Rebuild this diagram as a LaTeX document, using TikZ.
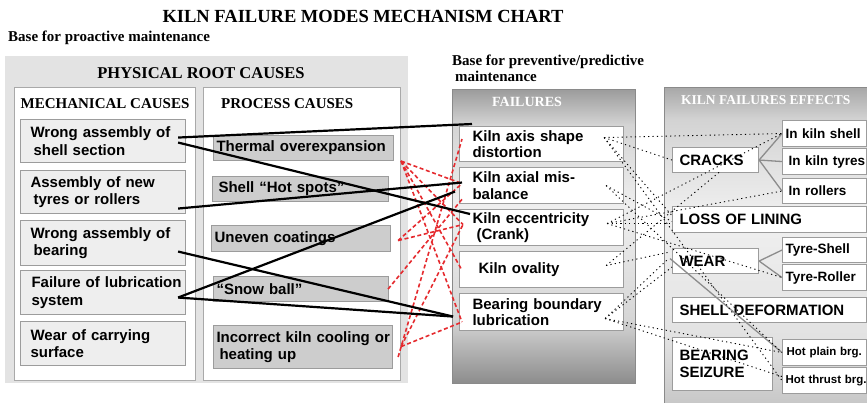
\documentclass[tikz,border=0pt]{standalone}
\usepackage{fontspec}
\setmainfont{Liberation Serif}
\setsansfont{Liberation Sans}
\usetikzlibrary{calc}

\definecolor{rootfill}{HTML}{E3E3E3}
\definecolor{mechfill}{HTML}{EEEEEE}
\definecolor{procfill}{HTML}{CDCDCD}
\definecolor{boxline}{HTML}{9C9C9C}
\definecolor{colline}{HTML}{A9A9A9}
\definecolor{panelline}{HTML}{8A8A8A}
\definecolor{causered}{HTML}{E52A2E}
\definecolor{treegray}{HTML}{8C8C8C}
% failures panel shading
\definecolor{ftop}{HTML}{9C9C9C}
\definecolor{fhigh}{HTML}{D4D4D4}
\definecolor{fmid}{HTML}{EFEFEF}
\definecolor{flow}{HTML}{D6D6D6}
\definecolor{fbot}{HTML}{8C8C8C}
% effects panel shading
\definecolor{etop}{HTML}{A8A8A8}
\definecolor{ehigh}{HTML}{D3D3D3}
\definecolor{emid}{HTML}{F0F0F0}
\definecolor{elow}{HTML}{E2E2E2}
\definecolor{ebot}{HTML}{C6C6C6}

\pgfdeclareverticalshading{failshade}{100bp}{color(0bp)=(fbot); color(25bp)=(fbot);
  color(36bp)=(flow); color(55bp)=(fmid); color(69bp)=(fhigh); color(75bp)=(ftop); color(100bp)=(ftop)}
\pgfdeclareverticalshading{effshade}{100bp}{color(0bp)=(ebot); color(25bp)=(ebot);
  color(36bp)=(elow); color(55bp)=(emid); color(70bp)=(ehigh); color(75bp)=(etop); color(100bp)=(etop)}

\begin{document}
\begin{tikzpicture}[x=1pt,y=-1pt,
  every node/.style={inner sep=0pt},
  hd/.style={font=\bfseries\fontsize{15}{16.5}\selectfont},
  col/.style={draw=colline, fill=white, line width=1pt, anchor=north west},
  box/.style={draw=boxline, line width=1.1pt, anchor=north west, align=left,
    font=\sffamily\bfseries\fontsize{15}{17.5}\selectfont},
  mech/.style={box, fill=mechfill, text width=149pt, inner xsep=8pt, minimum height=#1},
  proc/.style={box, fill=procfill, inner xsep=3pt, minimum height=#1},
  fail/.style={box, fill=white, text width=138pt, inner xsep=13pt, minimum height=#1,
    font=\sffamily\bfseries\fontsize{15}{16.5}\selectfont},
  eff/.style={box, fill=white, inner xsep=7pt, minimum height=#1},
  sub/.style={box, fill=white, text width=80pt, inner xsep=2pt, minimum height=#1,
    font=\sffamily\bfseries\fontsize{13.5}{15}\selectfont},
  hot/.style={sub=#1, font=\sffamily\bfseries\fontsize{11.5}{13}\selectfont},
  causeline/.style={line width=2.2pt, black},
  redlink/.style={line width=1.6pt, causered, dash pattern=on 4pt off 2.6pt},
  dotlink/.style={line width=0.9pt, black, dash pattern=on 1.2pt off 3.2pt},
  tree/.style={line width=1.3pt, treegray},
]
\useasboundingbox (0,0) rectangle (867,403);
\clip (0,0) rectangle (867,403);

% headings
\node[font=\bfseries\fontsize{18.5}{20}\selectfont] (title) at (363,16) {KILN FAILURE MODES MECHANISM CHART};
\node[hd, anchor=west] (proact) at (8,38) {Base for proactive maintenance};
\node[hd, anchor=west, align=left] (predict) at (452,68.5) {Base for preventive/predictive\\\hspace*{3pt}maintenance};

% root causes panel
\node[fill=rootfill, minimum width=403pt, minimum height=327pt, anchor=north west] (rootpanel) at (5,56) {};
\node[hd, font=\bfseries\fontsize{16.5}{18}\selectfont] (physhd) at (201,73) {PHYSICAL ROOT CAUSES};
\node[col, minimum width=181pt, minimum height=293pt] (mechcol) at (14,87) {};
\node[col, minimum width=197pt, minimum height=293pt] (proccol) at (203,87) {};
\node[hd] (mechhd) at (105,104) {MECHANICAL CAUSES};
\node[hd, anchor=west] (prochd) at (221,104) {PROCESS CAUSES};

\node[mech=43pt] (m1) at (20,119) {\hspace*{2pt}Wrong assembly of\\\hspace*{5pt}shell section};
\node[mech=43pt] (m2) at (20,170) {\hspace*{2pt}Assembly of new\\\hspace*{5pt}tyres or rollers};
\node[mech=45pt] (m3) at (20,220) {\hspace*{2pt}Wrong assembly of\\\hspace*{5pt}bearing};
\node[mech=44pt] (m4) at (20,270) {\mbox{\hspace*{3pt}Failure of lubrication}\\\hspace*{3pt}system};
\node[mech=44pt] (m5) at (20,321) {\hspace*{2pt}Wear of carrying\\\hspace*{2pt}surface};

\node[proc=25pt, text width=174pt] (p1) at (213,135) {Thermal overexpansion};
\node[proc=25pt, text width=170pt] (p2) at (212,176) {\hspace*{3pt}Shell “Hot spots”};
\node[proc=26pt, text width=173pt] (p3) at (211,225) {Uneven coatings};
\node[proc=25pt, text width=169pt] (p4) at (213,276) {“Snow ball”};
\node[proc=43pt, text width=173pt] (p5) at (213,325) {\mbox{Incorrect kiln cooling or}\\\hspace*{3pt}heating up};

% failures panel
\node[draw=panelline, line width=1.2pt, shade, shading=failshade, minimum width=183pt,
  minimum height=294pt, anchor=north west] (failpanel) at (452,89) {};
\node[hd, text=white, font=\bfseries\fontsize{14}{16}\selectfont] (failhd) at (527,102) {FAILURES};
\node[fail=35pt] (f1) at (459,126) {Kiln axis shape\\distortion};
\node[fail=36pt] (f2) at (459,167) {Kiln axial mis-\\balance};
\node[fail=36pt] (f3) at (459,209) {Kiln eccentricity\\\hspace*{4pt}(Crank)};
\node[fail=36pt] (f4) at (459,251) {\hspace*{6pt}Kiln ovality};
\node[fail=37pt] (f5) at (459,293) {Bearing boundary\\lubrication};

% effects panel
\node[draw=panelline, line width=1.2pt, shade, shading=effshade, minimum width=230pt,
  minimum height=320pt, anchor=north west] (effpanel) at (664,87) {};
\node[hd, text=white, anchor=west, font=\bfseries\fontsize{13.5}{15}\selectfont] (effhd) at (681,100) {KILN FAILURES EFFECTS};
\node[eff=25pt, text width=72pt] (cracks) at (672,147) {CRACKS};
\node[eff=26pt, text width=180pt] (lining) at (672,206) {LOSS OF LINING};
\node[eff=25pt, text width=72pt] (wear) at (672,248) {WEAR};
\node[eff=25pt, text width=180pt] (deform) at (672,297) {SHELL DEFORMATION};
\node[eff=53pt, text width=86pt] (seizure) at (672,337) {BEARING\\SEIZURE};
\node[sub=26pt] (shell) at (782,120) {\mbox{\hspace*{1pt}In kiln shell}};
\node[sub=26pt] (tyres) at (782,148) {\mbox{\hspace*{4pt}In kiln tyres}};
\node[sub=25pt] (rollers) at (782,178) {\mbox{\hspace*{4pt}In rollers}};
\node[sub=25pt] (tshell) at (782,237) {\mbox{\hspace*{1pt}Tyre-Shell}};
\node[sub=26pt] (troller) at (782,264) {\mbox{\hspace*{1pt}Tyre-Roller}};
\node[hot=26pt] (hplain) at (782,339) {\mbox{\hspace*{2pt}Hot plain brg.}};
\node[hot=26pt] (hthrust) at (782,367) {\mbox{\hspace*{1pt}Hot thrust brg.}};

% breakdown of effects
\draw[tree] (cracks.east) -- (shell.west);
\draw[tree] (cracks.east) -- (tyres.west);
\draw[tree] (cracks.east) -- (rollers.west);
\draw[tree] (wear.east) -- (tshell.west);
\draw[tree] (wear.east) -- (troller.west);
\draw[tree] ($(wear.west)+(-2,-2.5)$) -- (hplain.west);

% failures to their effects
\draw[dotlink] ($(f1.east)+(-20,-6.5)$) -- (shell.west);
\draw[dotlink] ($(f1.east)+(-20,-6.5)$) -- (cracks.west);
\draw[dotlink] ($(f1.east)+(-20,-6.5)$) -- ($(lining.west)+(0,-4)$);
\draw[dotlink] ($(f1.east)+(-20,-6.5)$) -- (hthrust.west);
\draw[dotlink] ($(f2.east)+(-18,0)$) -- ($(lining.west)+(0,2)$);
\draw[dotlink] ($(f2.east)+(-18,0)$) -- (hplain.west);
\draw[dotlink] ($(f3.east)+(-17,-4)$) -- ($(lining.west)+(0,4)$);
\draw[dotlink] ($(f3.east)+(-17,-4)$) -- (rollers.west);
\draw[dotlink] ($(f3.east)+(-17,-4)$) -- (shell.west);
\draw[dotlink] ($(f3.east)+(-17,-4)$) -- (troller.west);
\draw[dotlink] ($(f4.east)+(-18,-4)$) -- ($(cracks.south)+(5,-2)$);
\draw[dotlink] ($(f4.east)+(-18,-4)$) -- ($(wear.north west)+(-2,4)$);
\draw[dotlink] ($(f5.east)+(-19,6.5)$) -- ($(wear.west)+(0,6)$);
\draw[dotlink] ($(f5.east)+(-19,6.5)$) -- ($(wear.west)+(-4,-2)$);
\draw[dotlink] ($(f5.east)+(-19,6.5)$) -- (hplain.west);
\draw[dotlink] ($(f5.east)+(-19,6.5)$) -- ($(hthrust.west)+(0,-4)$);

% process causes to failures
\draw[redlink] ($(p1.south east)+(7,0)$) -- ($(f2.west)+(3,-2)$);
\draw[redlink] ($(p1.south east)+(7,0)$) -- ($(f3.west)+(4,-3)$);
\draw[redlink] ($(p1.south east)+(7,0)$) -- ($(f4.west)+(2,-1)$);
\draw[redlink] ($(p1.south east)+(7,0)$) -- ($(f5.west)+(3,10)$);
\draw[redlink] ($(p3.east)+(7,2)$) -- ($(f2.west)+(3,-2)$);
\draw[redlink] ($(p3.east)+(7,2)$) -- ($(f3.west)+(4,-3)$);
\draw[redlink] ($(p4.east)+(-1,0)$) -- ($(f2.south west)+(4,-6)$);
\draw[redlink] ($(p5.east)+(5,10)$) -- ($(f1.west)+(3,-5)$);
\draw[redlink] ($(p5.east)+(8,-0.5)$) -- ($(f3.west)+(4,-3)$);
\draw[redlink] ($(p5.east)+(8,-0.5)$) -- ($(f5.west)+(3,10)$);

% mechanical causes to failures
\draw[causeline] ($(m1.east)+(-8,-3.5)$) -- ($(f1.north west)+(13,-2)$);
\draw[causeline] ($(m1.east)+(-8,1.5)$) -- ($(f3.north west)+(11,5)$);
\draw[causeline] ($(m2.east)+(-8,16.5)$) -- ($(f2.west)+(3,-3)$);
\draw[causeline] ($(m3.east)+(-8,8.5)$) -- ($(f5.west)+(-6,4.5)$);
\draw[causeline] ($(m4.east)+(-8,5)$) -- ($(f2.west)+(-4,6)$);
\draw[causeline] ($(m4.east)+(-8,5)$) -- ($(f5.west)+(-6,4.5)$);
\end{tikzpicture}
\end{document}
